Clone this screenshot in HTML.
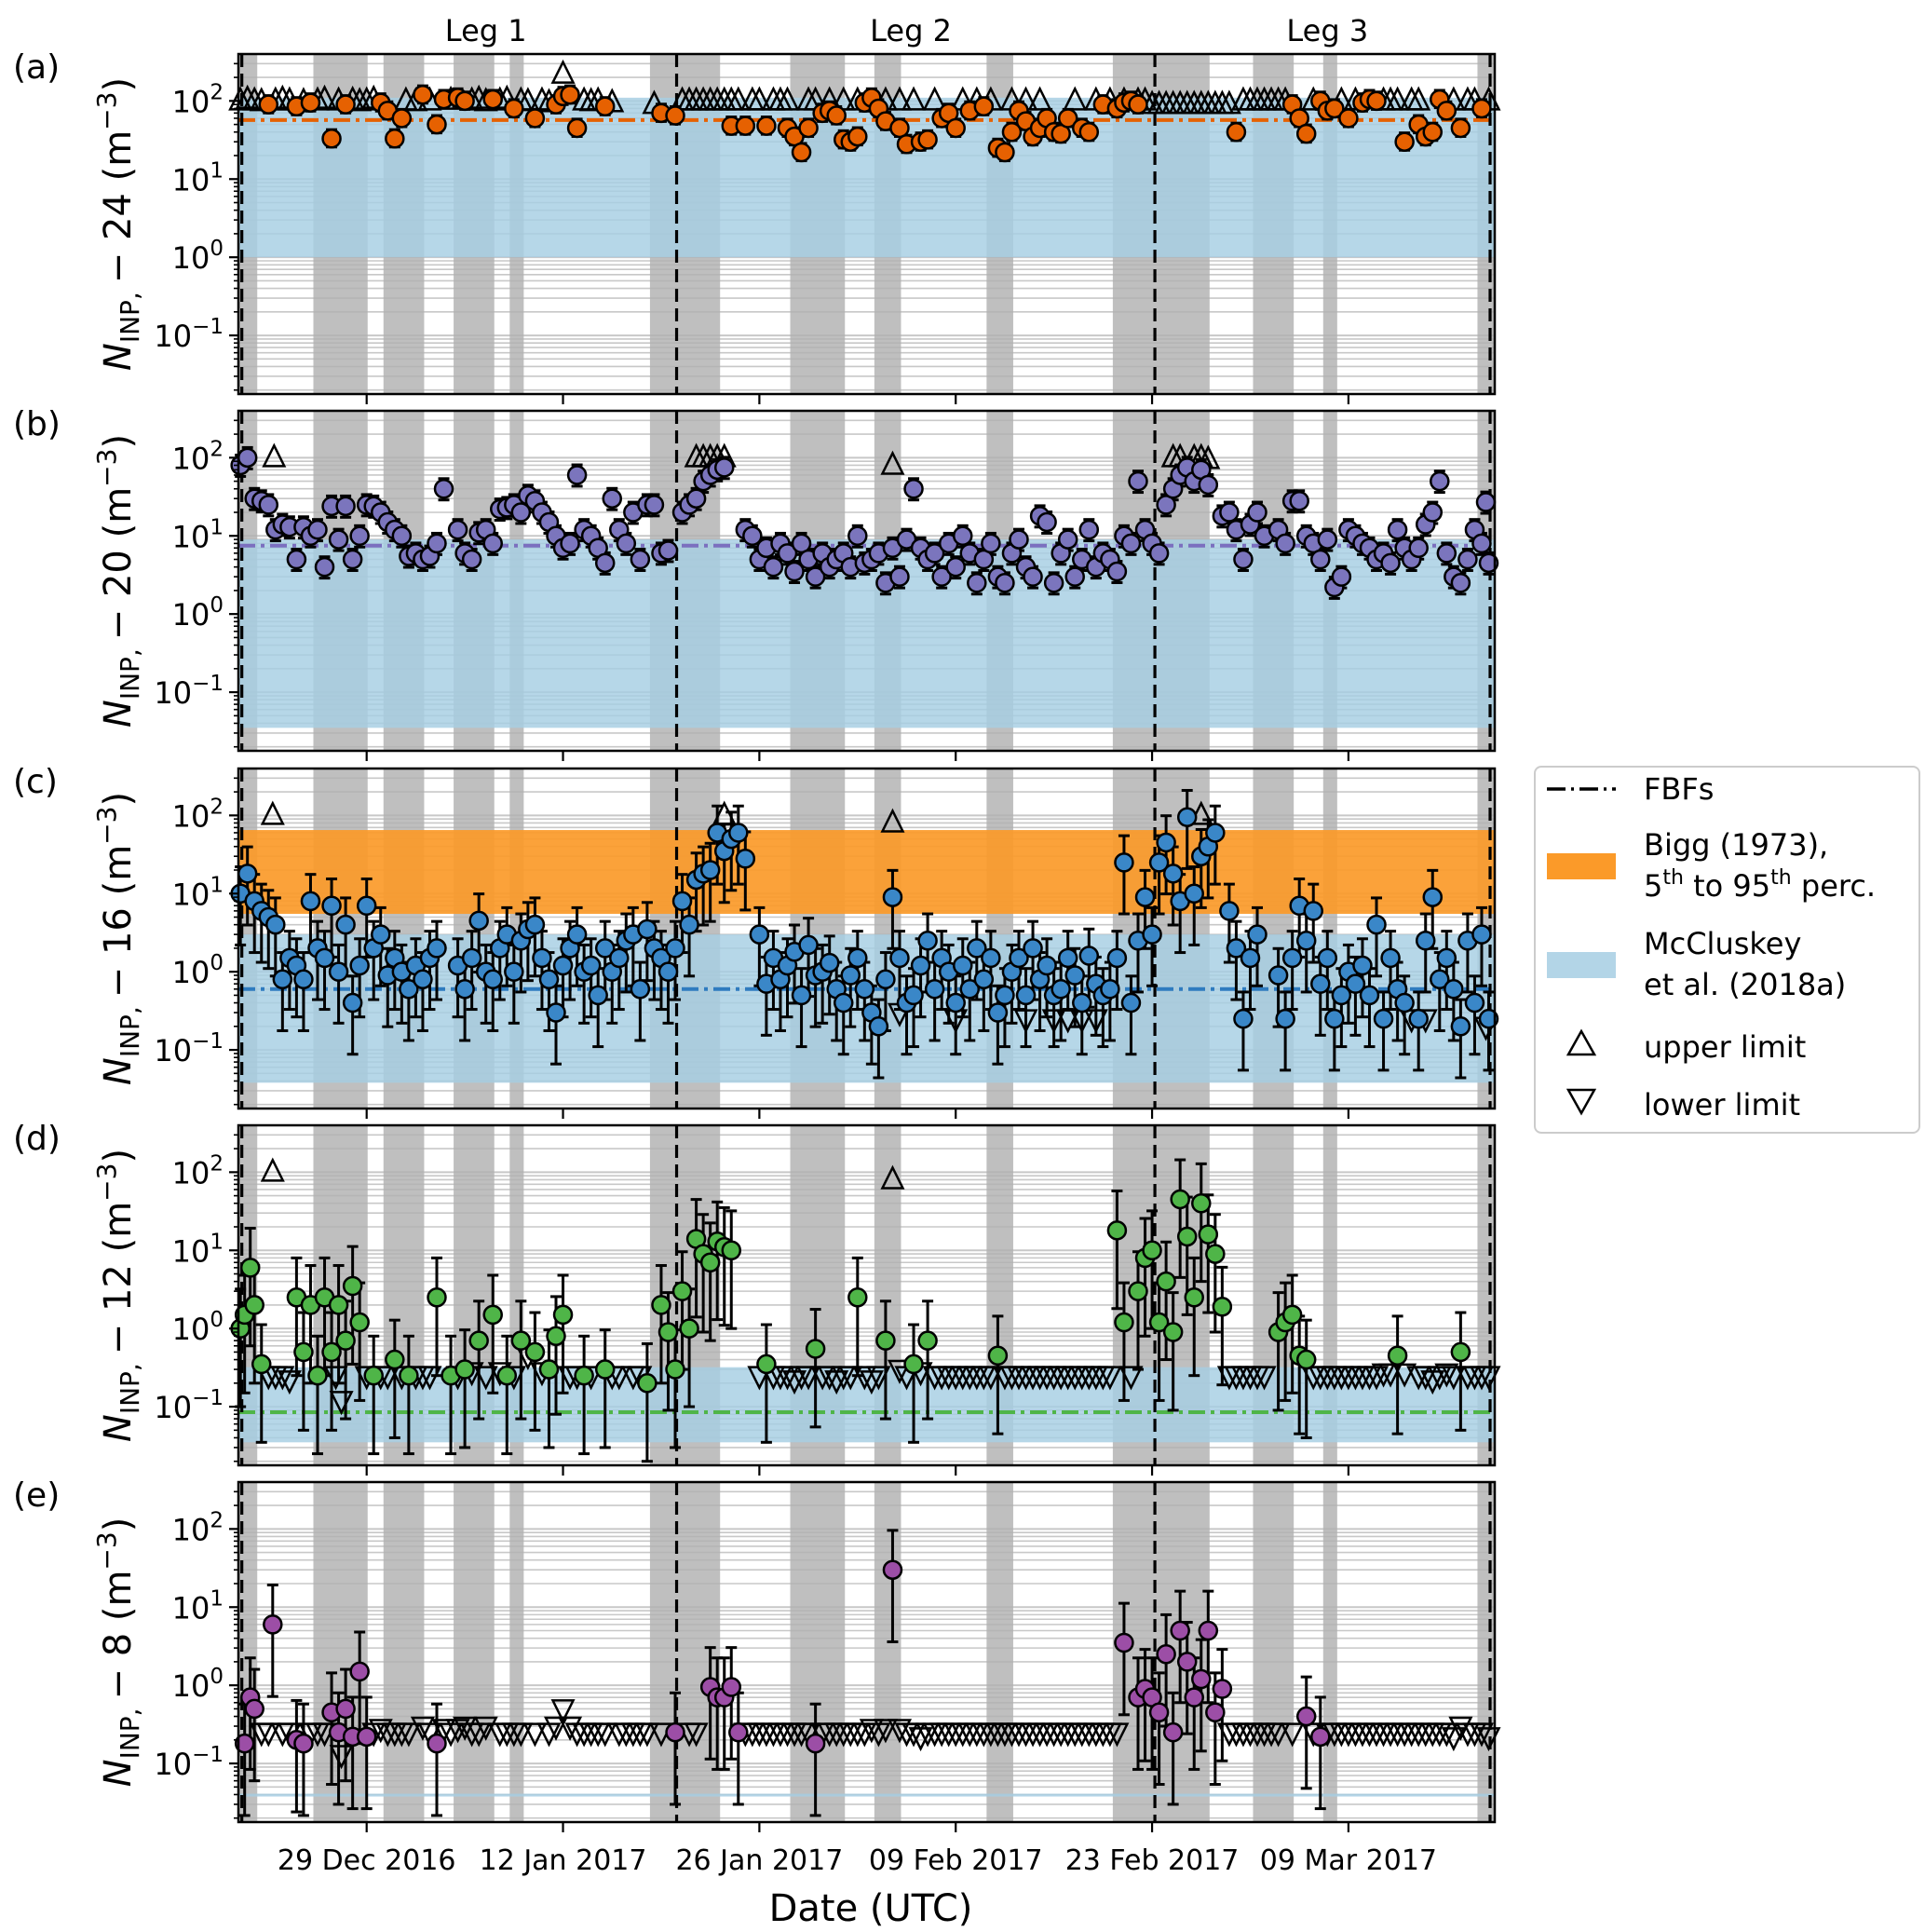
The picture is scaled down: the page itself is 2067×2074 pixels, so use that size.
<!DOCTYPE html>
<html><head><meta charset="utf-8"><style>
body{margin:0;background:#fff}
svg{display:block;font-family:"DejaVu Sans","Liberation Sans",sans-serif}
</style></head><body>
<svg id="chart" width="2067" height="2074" viewBox="0 0 2067 2074" xmlns="http://www.w3.org/2000/svg"></svg>
<script>
// ---- data (days relative to 29 Dec 2016) ----
const tickDays = [0,14,28,42,56,70];
const tickLabels = ["29 Dec 2016","12 Jan 2017","26 Jan 2017","09 Feb 2017","23 Feb 2017","09 Mar 2017"];
const grayBands = [[-9.1,-7.8],[-3.8,0.07],[1.2,4.1],[6.2,9.1],[10.2,11.2],[20.2,25.2],[30.2,34.1],[36.2,38.1],[44.2,46.1],[53.2,60.1],[63.2,66.1],[68.2,69.2],[79.2,80.4]];
const fbfDays = [-8.9,22.1,56.2,80.1];
const legLabels = ["Leg 1","Leg 2","Leg 3"];
const legDays = [8.5,38.8,68.5];
const panelLetters = ["(a)","(b)","(c)","(d)","(e)"];
const panelTemps = ["24","20","16","12","8"];
const blueBands = [[1.0,110],[0.035,9],[0.038,3.0],[0.035,0.32],[0.038,0.041]];
const biggBand = [5.5,65];
const medians = [57,7.5,0.6,0.085,null];

const circA = [[-7,90],[-5,85],[-4,95],[-2.5,33],[-1.5,90],[1,95],[1.5,75],[2,33],[2.5,60],[4,120],[5,50],[5.5,105],[6.5,110],[7,100],[9,105],[10.5,80],[12,60],[13.5,90],[14,115],[14.5,120],[15,45],[17,85],
[21,70],[22,65],[26,48],[27,48],[28.5,48],[30,45],[30.5,35],[31,22],[31.5,45],[32.5,70],[33,75],[33.5,65],[34,32],[34.5,30],[35,35],[35.5,95],[36,110],[36.5,80],[37,55],[38,45],[38.5,28],[39.5,30],[40,32],[41,60],[41.5,70],[42,45],[43,75],[44,85],[45,25],[45.5,22],[46,40],[46.5,75],[47,55],[47.5,35],[48,45],[48.5,60],[49,40],[49.5,38],[50,60],[51,45],[51.5,40],[52.5,90],[53.5,80],[54,95],[54.5,100],[55,90],
[62,40],[66,90],[66.5,60],[67,38],[68,100],[68.5,75],[69,80],[70,60],[71,95],[71.5,105],[72,100],[74,30],[75,50],[75.5,35],[76,40],[76.5,105],[77,75],[78,45],[79.5,80]];
const upA = [[-9,100],[-8.5,105],[-8,100],[-7.5,98],[-6.5,100],[-6,105],[-5.5,100],[-4.5,98],[-3.5,100],[-3,105],[-2,100],[-1,102],[-0.5,98],[0,100],[0.5,105],[2.8,100],[3.5,98],[4.5,100],[6,102],[7.5,100],[8,105],[8.5,98],[9.5,100],[10,105],[11,100],[11.5,98],[12.5,100],[13,95],[14,220],[15.5,100],[16,98],[16.5,100],[17.5,95],
[20.5,90],[22.5,100],[23,100],[23.5,100],[24,100],[24.5,100],[25,100],[25.5,100],[26,100],[26.5,100],[27.5,100],[28,100],[29,100],[29.5,100],[30,100],[31.5,100],[32,100],[33,100],[34,100],[35,100],[37,100],[38,100],[39,100],[40.5,100],[42.5,100],[43.5,100],[44.5,100],[46,100],[47,100],[48,100],[50.5,100],[52,100],[53,100],[54,100],[55,100],[55.5,100],
[56,90],[56.5,90],[57,90],[57.5,90],[58,90],[58.5,90],[59,90],[59.5,90],[60,90],[60.5,90],[61,90],[61.5,90],[62.5,100],[63,100],[63.5,100],[64,100],[64.5,100],[65,100],[65.5,100],[67.5,100],[69.5,100],[70.5,100],[72.5,100],[73,100],[73.5,100],[74.5,100],[75,100],[77.5,100],[78.5,100],[79,100],[80,100]];
const circB = [[-9,80],[-8.5,100],[-8,30],[-7.5,28],[-7,25],[-6.5,12],[-6,14],[-5.5,13],[-5,5],[-4.5,13],[-4,10],[-3.5,12],[-3,4],[-2.5,24],[-2,9],[-1.5,24],[-1,5],[-0.5,10],[0,25],[0.5,24],[1,20],[1.5,15],[2,12],[2.5,10],[3,5.5],[3.5,6],[4,5],[4.5,5.5],[5,8],[5.5,40],[6.5,12],[7,6],[7.5,5],[8,11],[8.5,12],[9,8],[9.5,22],[10,23],[10.5,25],[11,20],[11.5,33],[12,28],[12.5,20],[13,15],[13.5,10],[14,7],[14.5,8],[15,60],[15.5,12],[16,10],[16.5,7],[17,4.5],[17.5,30],[18,12],[18.5,8],[19,20],[19.5,5],[20,25],[20.5,25],
[21,6],[21.5,6.5],[22.5,20],[23,25],[23.5,30],[24,50],[24.5,60],[25,70],[25.5,75],
[27,12],[27.5,10],[28,5],[28.5,7],[29,4],[29.5,8],[30,6],[30.5,3.5],[31,8],[31.5,5],[32,3],[32.5,6],[33,4],[33.5,5],[34,6],[34.5,4],[35,10],[35.5,4.5],[36,5],[36.5,6],[37,2.5],[37.5,7],[38,3],[38.5,9],[39,40],[39.5,7],[40,5],[40.5,6],[41,3],[41.5,8],[42,4],[42.5,10],[43,6],[43.5,2.5],[44,5],[44.5,8],[45,3],[45.5,2.5],[46,6],[46.5,9],[47,4],[47.5,3],[48,18],[48.5,15],[49,2.5],[49.5,6],[50,9],[50.5,3],[51,5],[51.5,12],[52,4],[52.5,6],[53,5],[53.5,3.5],[54,10],[54.5,8],[55,50],[55.5,12],[56,8],[56.5,6],[57,25],
[57.5,40],[58,60],[58.5,75],[59,50],[59.5,70],[60,45],[61,18],[61.5,20],[62,12],[62.5,5],[63,14],[63.5,20],[64,10],[65,12],[65.5,8],[66,28],[66.5,28],[67,10],[67.5,8],[68,5],[68.5,9],[69,2.2],[69.5,3],[70,12],[70.5,10],[71,8],[71.5,7],[72,5],[72.5,6],[73,4.5],[73.5,12],[74,7],[74.5,5],[75,7],[75.5,14],[76,20],[76.5,50],[77,6],[77.5,3],[78,2.5],[78.5,5],[79,12],[79.5,8],[80,4.5],[79.8,27]];
const upB = [[-6.6,100],[23.5,100],[24,100],[24.5,100],[25,100],[25.5,100],[37.5,80],[57.5,100],[58,100],[59,100],[59.5,100],[60,95]];
const circC = [[-9,10],[-8.5,18],[-8,8],[-7.5,6],[-7,5],[-6.5,4],[-6,0.8],[-5.5,1.5],[-5,1.2],[-4.5,0.8],[-4,8],[-3.5,2],[-3,1.5],[-2.5,7],[-2,1],[-1.5,4],[-1,0.4],[-0.5,1.2],[0,7],[0.5,2],[1,3],[1.5,0.9],[2,1.5],[2.5,1],[3,0.6],[3.5,1.2],[4,0.8],[4.5,1.5],[5,2],[6.5,1.2],[7,0.6],[7.5,1.5],[8,4.5],[8.5,1],[9,0.8],[9.5,2],[10,3],[10.5,1],[11,2.5],[11.5,3.5],[12,4],[12.5,1.5],[13,0.8],[13.5,0.3],[14,1.2],[14.5,2],[15,3],[15.5,1],[16,1.2],[16.5,0.5],[17,2],[17.5,1],[18,1.5],[18.5,2.5],[19,3],[19.5,0.6],[20,3.5],[20.5,2],
[21,1.5],[21.5,1],[22,2],[22.5,8],[23,4],[23.5,15],[24,18],[24.5,20],[25,60],[25.5,35],[26,50],[26.5,60],[27,28],
[28,3],[28.5,0.7],[29,1.5],[29.5,0.8],[30,1.2],[30.5,1.8],[31,0.5],[31.5,2.2],[32,0.9],[32.5,1],[33,1.3],[33.5,0.6],[34,0.4],[34.5,0.9],[35,1.5],[35.5,0.6],[36,0.3],[36.5,0.2],[37,0.8],[37.5,9],[38,1.5],[38.5,0.4],[39,0.5],[39.5,1.2],[40,2.5],[40.5,0.6],[41,1.5],[41.5,1],[42,0.4],[42.5,1.2],[43,0.6],[43.5,2],[44,0.8],[44.5,1.5],[45,0.3],[45.5,0.5],[46,1],[46.5,1.5],[47,0.5],[47.5,2],[48,0.8],[48.5,1.2],[49,0.5],[49.5,0.6],[50,1.5],[50.5,0.9],[51,0.4],[51.5,1.6],[52,0.7],[52.5,0.5],[53,0.6],[53.5,1.5],[54,25],[54.5,0.4],[55,2.5],[55.5,9],[56,3],[56.5,25],
[57,45],[57.5,18],[58,8],[58.5,95],[59,10],[59.5,30],[60,40],[60.5,60],[61.5,6],[62,2],[62.5,0.25],[63,1.5],[63.5,3],[65,0.9],[65.5,0.25],[66,1.5],[66.5,7],[67,2.5],[67.5,6],[68,0.7],[68.5,1.5],[69,0.25],[69.5,0.5],[70,1],[70.5,0.7],[71,1.2],[71.5,0.5],[72,4],[72.5,0.25],[73,1.5],[73.5,0.6],[74,0.4],[75,0.25],[75.5,2.5],[76,9],[76.5,0.8],[77,1.5],[77.5,0.6],[78,0.2],[78.5,2.5],[79,0.4],[79.5,3],[80,0.25]];
const upC = [[-6.7,100],[25.5,100],[37.5,80],[59.5,100]];
const loC = [[38,0.3],[42,0.25],[47,0.25],[49,0.25],[50,0.25],[51,0.25],[52,0.25],[74.5,0.25],[75.5,0.25],[79.8,0.2]];
const circD = [[-9,1],[-8.7,1.5],[-8.3,6],[-8,2],[-7.5,0.35],[-5,2.5],[-4.5,0.5],[-4,2],[-3.5,0.25],[-3,2.5],[-2.5,0.5],[-2,2],[-1.5,0.7],[-1,3.5],[-0.5,1.2],[0.5,0.25],[2,0.4],[3,0.25],[5,2.5],[6,0.25],[7,0.3],[8,0.7],[9,1.5],[10,0.25],[11,0.7],[12,0.5],[13,0.3],[13.5,0.8],[14,1.5],[15.5,0.25],[17,0.3],[20,0.2],[21,2],[21.5,0.9],[22,0.3],[22.5,3],[23,1],[23.5,14],[24,9],[24.5,7],[25,13],[25.5,11],[26,10],[28.5,0.35],[32,0.55],[35,2.5],[37,0.7],[39,0.35],[40,0.7],[45,0.45],[53.5,18],[54,1.2],[55,3],[55.5,8],[56,10],[56.5,1.2],[57,4],[57.5,0.9],[58,45],[58.5,15],[59,2.5],[59.5,40],[60,16],[60.5,9],[61,1.9],[65,0.9],[65.5,1.2],[66,1.5],[66.5,0.45],[67,0.4],[73.5,0.45],[78,0.5]];
const upD = [[-6.7,100],[37.5,80]];
const loD = [[-7,0.25],[-6.5,0.25],[-6,0.25],[-5.5,0.22],[-2.2,0.25],[-1.8,0.12],[0,0.25],[1,0.25],[1.5,0.25],[2.5,0.25],[3.5,0.25],[4,0.25],[4.5,0.25],[6.5,0.25],[7.5,0.28],[8.5,0.25],[9.5,0.28],[10.5,0.25],[11.5,0.45],[12.5,0.28],[14.5,0.25],[15,0.25],[16,0.25],[17.5,0.25],[18,0.25],[19,0.25],[19.5,0.25],
[28,0.25],[29,0.25],[29.5,0.25],[30,0.25],[30.5,0.22],[31,0.25],[31.5,0.25],[32.5,0.25],[33,0.25],[33.5,0.22],[34,0.25],[34.5,0.25],[35.5,0.25],[36,0.22],[36.5,0.25],[38,0.3],[38.5,0.25],[39.5,0.28],[40.5,0.25],[41,0.25],[41.5,0.25],[42,0.25],[42.5,0.25],[43,0.25],[43.5,0.25],[44,0.25],[44.5,0.25],[45.5,0.25],[46,0.25],[46.5,0.25],[47,0.25],[47.5,0.25],[48,0.25],[48.5,0.25],[49,0.25],[49.5,0.25],[50,0.25],[50.5,0.25],[51,0.25],[51.5,0.25],[52,0.25],[52.5,0.25],[53,0.25],[54.5,0.25],
[61.5,0.25],[62,0.25],[62.5,0.25],[63,0.25],[63.5,0.25],[64,0.25],[67.5,0.25],[68,0.25],[68.5,0.25],[69,0.25],[69.5,0.25],[70,0.25],[70.5,0.25],[71,0.25],[71.5,0.25],[72,0.25],[72.5,0.27],[73,0.27],[74,0.27],[75,0.25],[75.5,0.25],[76,0.22],[76.5,0.25],[77,0.27],[77.5,0.25],[78.5,0.25],[79,0.25],[79.5,0.25],[80,0.25]];
const circE = [[-8.7,0.18],[-8.3,0.7],[-8,0.5],[-6.7,6],[-5,0.2],[-4.5,0.18],[-2.5,0.45],[-2,0.25],[-1.5,0.5],[-1,0.22],[-0.5,1.5],[0,0.22],[5,0.18],[22,0.25],[24.5,0.95],[25,0.7],[25.5,0.7],[26,0.95],[26.5,0.25],[32,0.18],[37.5,30],[54,3.5],[55,0.7],[55.5,0.9],[56,0.7],[56.5,0.45],[57,2.5],[57.5,0.25],[58,5],[58.5,2],[59,0.7],[59.5,1.2],[60,5],[60.5,0.45],[61,0.9],[67,0.4],[68,0.22]];
const loE = [[-7.5,0.25],[-7,0.25],[-6,0.25],[-5.5,0.25],[-4,0.25],[-3.5,0.25],[-3,0.25],[-1.8,0.13],[0.5,0.25],[1,0.28],[1.5,0.25],[2,0.25],[2.5,0.25],[3,0.25],[4,0.3],[4.5,0.25],[5.5,0.28],[6,0.25],[6.5,0.28],[7,0.3],[7.5,0.25],[8,0.25],[8.5,0.3],[9.5,0.25],[10,0.25],[10.5,0.25],[11,0.25],[12,0.25],[13,0.25],[13.5,0.3],[14,0.5],[14.5,0.3],[15,0.25],[15.5,0.25],[16,0.25],[16.5,0.25],[17,0.25],[18,0.25],[18.5,0.25],[19,0.25],[19.5,0.25],[20,0.25],[21,0.25],[23,0.25],[23.5,0.25],
[27,0.25],[27.5,0.25],[28,0.25],[28.5,0.25],[29,0.25],[29.5,0.25],[30,0.25],[30.5,0.25],[31,0.25],[31.5,0.25],[32.5,0.25],[33,0.25],[33.5,0.25],[34,0.25],[34.5,0.25],[35,0.25],[35.5,0.25],[36,0.28],[36.5,0.25],[37,0.28],[38,0.28],[38.5,0.25],[39,0.25],[39.5,0.22],[40,0.25],[40.5,0.25],[41,0.25],[41.5,0.25],[42,0.25],[42.5,0.25],[43,0.25],[43.5,0.25],[44,0.25],[44.5,0.25],[45,0.25],[45.5,0.25],[46,0.25],[46.5,0.25],[47,0.25],[47.5,0.25],[48,0.25],[48.5,0.25],[49,0.25],[49.5,0.25],[50,0.25],[50.5,0.25],[51,0.25],[51.5,0.25],[52,0.25],[52.5,0.25],[53,0.25],[53.5,0.25],
[61.5,0.25],[62,0.25],[62.5,0.25],[63,0.25],[63.5,0.25],[64,0.25],[64.5,0.25],[65,0.25],[66,0.25],[67.5,0.25],[68.5,0.25],[69,0.25],[69.5,0.25],[70,0.25],[70.5,0.25],[71,0.25],[71.5,0.25],[72,0.25],[72.5,0.25],[73,0.25],[73.5,0.25],[74,0.25],[74.5,0.25],[75,0.25],[75.5,0.25],[76,0.25],[76.5,0.25],[77,0.25],[77.5,0.22],[78,0.3],[78.5,0.25],[79,0.25],[79.5,0.25],[80,0.22]];

const panelColors = ["#e66101","#7b75bd","#3a87c8","#4fb548","#9c4ea6"];
const medianColors = ["#e66101","#7b6fbf","#2f7bbf","#4fb548",null];
const errLo = [0.78,0.72,0.22,0.1,0.12];
const errHi = [1.3,1.35,2.2,3.2,3.2];
const circles = [circA,circB,circC,circD,circE];
const ups = [upA,upB,upC,upD,[]];
const lows = [[],[],loC,loD,loE];

// ---- layout ----
const NS = "http://www.w3.org/2000/svg";
const svg = document.getElementById('chart');
const X0 = 256, X1 = 1605, PH = 365;
const panelTops = [58,441,825,1208,1591];
const LTOP = 2.6, LBOT = -1.75;
const xScale = d => 393.7 + d*15.06;
function yScale(p, v){ return panelTops[p] + (LTOP - Math.log10(v)) / (LTOP-LBOT) * PH; }
function mk(tag, attrs, parent){ const e = document.createElementNS(NS, tag); for (const k in attrs) e.setAttribute(k, attrs[k]); (parent||svg).appendChild(e); return e; }
const cx = v => Math.max(X0, Math.min(X1, v));

for (let p=0;p<5;p++){
  const g = mk('g', {});
  
  
  const top = panelTops[p], bot = top+PH;
  grayBands.forEach(b=>{
    const r = mk('rect',{x:cx(xScale(b[0])),y:top,width:cx(xScale(b[1]))-cx(xScale(b[0])),height:PH,fill:'#bfbfbf'},g);
    
    
  });
  for (let k=-2;k<=2;k++) for (let m=1;m<=9;m++){
    const v = m*Math.pow(10,k); const lv=Math.log10(v);
    if (lv>LTOP||lv<LBOT) continue;
    mk('line',{x1:X0,x2:X1,y1:yScale(p,v),y2:yScale(p,v),stroke:'#b0b0b0','stroke-width':m===1?2:1.6,'stroke-opacity':0.7},g);
  }
  const bb = blueBands[p];
  const br = mk('rect',{x:X0,y:yScale(p,bb[1]),width:X1-X0,height:Math.max(3,yScale(p,bb[0])-yScale(p,bb[1])),fill:'#a6cee3','fill-opacity':0.82},g);
  
  
  if (p===2){
    const ob = mk('rect',{x:X0,y:yScale(p,biggBand[1]),width:X1-X0,height:yScale(p,biggBand[0])-yScale(p,biggBand[1]),fill:'#fb9a29','fill-opacity':0.92},g);
    
    
  }
  if (medians[p]!==null){
    const ml = mk('line',{x1:X0,x2:X1,y1:yScale(p,medians[p]),y2:yScale(p,medians[p]),stroke:medianColors[p],'stroke-width':4,'stroke-dasharray':'18 6 4 6'},g);
    
    
  }
  fbfDays.forEach(d=>{
    const l = mk('line',{x1:cx(xScale(d)),x2:cx(xScale(d)),y1:top,y2:bot,stroke:'#000','stroke-width':3.2,'stroke-dasharray':'14 7'},g);
    
    
  });
  const clipY = v => Math.max(top, Math.min(bot, v));
  circles[p].forEach(pt=>{
    const x = xScale(pt[0]);
    const yl = clipY(yScale(p, pt[1]*errLo[p])), yh = clipY(yScale(p, pt[1]*errHi[p]));
    mk('line',{x1:x,x2:x,y1:yl,y2:yh,stroke:'#000','stroke-width':3},g);
    mk('line',{x1:x-6,x2:x+6,y1:yl,y2:yl,stroke:'#000','stroke-width':3},g);
    mk('line',{x1:x-6,x2:x+6,y1:yh,y2:yh,stroke:'#000','stroke-width':3},g);
  });
  ups[p].forEach(pt=>{
    const x=xScale(pt[0]), y=yScale(p,pt[1]);
    const t = mk('polygon',{points:`${x},${y-13} ${x-11},${y+9} ${x+11},${y+9}`,fill:'none',stroke:'#000','stroke-width':2.5},g);
    
    
  });
  lows[p].forEach(pt=>{
    const x=xScale(pt[0]), y=yScale(p,pt[1]);
    const t = mk('polygon',{points:`${x},${y+13} ${x-11},${y-9} ${x+11},${y-9}`,fill:'none',stroke:'#000','stroke-width':2.5},g);
    
    
  });
  circles[p].forEach(pt=>{
    const c = mk('circle',{cx:xScale(pt[0]),cy:yScale(p,pt[1]),r:9.5,fill:panelColors[p],stroke:'#000','stroke-width':2.5},g);
    
    
  });
  const sp = mk('rect',{x:X0,y:top,width:X1-X0,height:PH,fill:'none',stroke:'#000','stroke-width':2.5},g);
  
  
  for (let k=-2;k<=2;k++) for (let m=1;m<=9;m++){
    const v=m*Math.pow(10,k), lv=Math.log10(v);
    if (lv>LTOP||lv<LBOT) continue;
    const y=yScale(p,v);
    mk('line',{x1:X0,x2:X0-(m===1?10:5),y1:y,y2:y,stroke:'#000','stroke-width':m===1?2.2:1.6},g);
    if (m===1 && k>=-1){
      const t = mk('text',{x:X0-16,y:y+12,'text-anchor':'end','font-size':32,fill:'#000'},g);
      
      
      t.innerHTML = `10<tspan dy="-14" font-size="23">${k<0?'\u2212'+(-k):k}</tspan>`;
    }
  }
  tickDays.forEach(d=>{ mk('line',{x1:xScale(d),x2:xScale(d),y1:bot,y2:bot+11,stroke:'#000','stroke-width':2.2},g); });
  const lt = mk('text',{x:14,y:top+26,'font-size':36,fill:'#000'},g);
  
  
  lt.textContent = panelLetters[p];
  const yl = mk('text',{transform:`translate(140,${top+PH/2}) rotate(-90)`,'text-anchor':'middle','font-size':40,fill:'#000'},g);
  
  
  yl.innerHTML = `<tspan font-style="italic">N</tspan><tspan font-size="28" dy="9">INP, </tspan><tspan dy="-9">\u2212 ${panelTemps[p]}  (m</tspan><tspan font-size="28" dy="-16">\u22123</tspan><tspan dy="16">)</tspan>`;
}
tickDays.forEach((d,i)=>{
  const t = mk('text',{x:xScale(d),y:2007,'text-anchor':'middle','font-size':30,fill:'#000'});
  
  
  t.textContent = tickLabels[i];
});
const xt = mk('text',{x:935,y:2062,'text-anchor':'middle','font-size':40,fill:'#000'});


xt.textContent = 'Date (UTC)';
legLabels.forEach((s,i)=>{
  const t = mk('text',{x:xScale(legDays[i]),y:44,'text-anchor':'middle','font-size':32,fill:'#000'});
  
  
  t.textContent = s;
});
const lg = mk('g',{});


mk('rect',{x:1648,y:823,width:413,height:393,rx:7,fill:'#fff',stroke:'#cccccc','stroke-width':2},lg);
mk('line',{x1:1661,x2:1735,y1:847,y2:847,stroke:'#000','stroke-width':3.5,'stroke-dasharray':'20 6 3 6'},lg);
mk('rect',{x:1661,y:916,width:74,height:28,fill:'#fb9a29'},lg);
mk('rect',{x:1661,y:1022,width:74,height:28,fill:'#a6cee3','fill-opacity':0.85},lg);
mk('polygon',{points:'1698,1107 1684,1132 1712,1132',fill:'none',stroke:'#000','stroke-width':2.5},lg);
mk('polygon',{points:'1698,1195 1684,1170 1712,1170',fill:'none',stroke:'#000','stroke-width':2.5},lg);
const lt = [[858,'FBFs'],[918,'Bigg (1973),'],[1024,'McCluskey'],[1068,'et al. (2018a)'],[1135,'upper limit'],[1197,'lower limit']];
lt.forEach(a=>{
  const t = mk('text',{x:1765,y:a[0],'font-size':32,fill:'#000'},lg);
  
  
  t.textContent = a[1];
});
const lt2 = mk('text',{x:1765,y:962,'font-size':32,fill:'#000'},lg);


lt2.innerHTML = '5<tspan dy="-13" font-size="22">th</tspan><tspan dy="13"> to 95</tspan><tspan dy="-13" font-size="22">th</tspan><tspan dy="13"> perc.</tspan>';
</script>
</body></html>
